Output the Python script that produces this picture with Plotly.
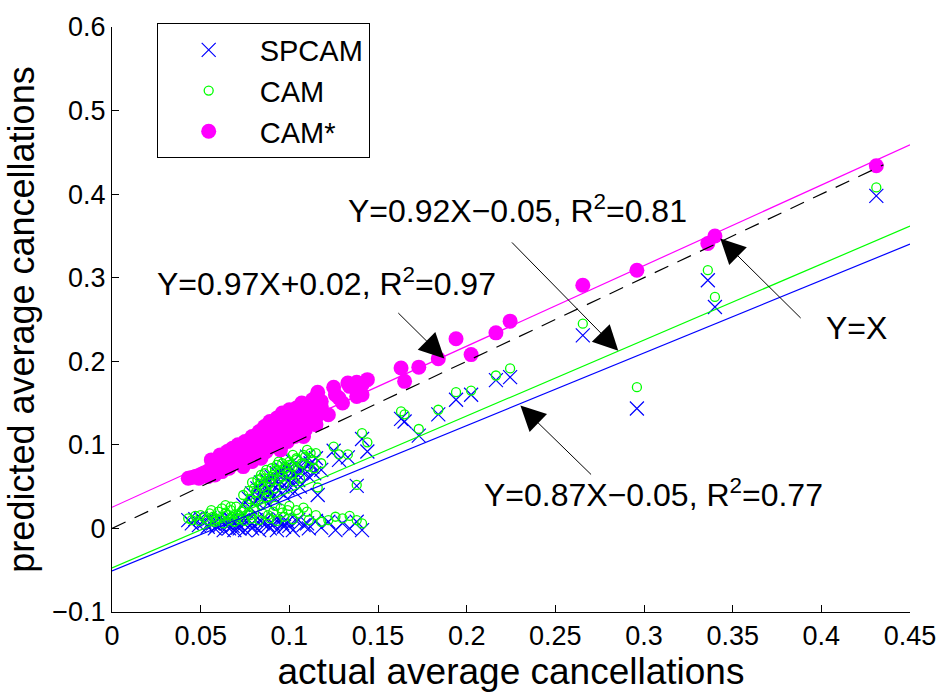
import plotly.graph_objects as go

# ---------------- data ----------------
actual = [
    0.043, 0.045, 0.047, 0.049, 0.050, 0.052, 0.054, 0.055, 0.057, 0.058,
    0.060, 0.061, 0.062, 0.063, 0.064, 0.065, 0.066, 0.067, 0.068, 0.069,
    0.070, 0.071, 0.072, 0.073, 0.075, 0.076, 0.078, 0.079, 0.081, 0.083,
    0.085, 0.087, 0.089, 0.091, 0.093, 0.095, 0.097, 0.099, 0.102, 0.105,
    0.108, 0.111, 0.115, 0.118, 0.122, 0.126, 0.130, 0.134, 0.138, 0.141,
    0.056, 0.059, 0.064, 0.067, 0.071, 0.074, 0.077, 0.080, 0.084, 0.088,
    0.092, 0.096, 0.100, 0.104, 0.110,
    0.074, 0.077, 0.079, 0.080, 0.082, 0.083, 0.084, 0.085, 0.086, 0.087,
    0.088, 0.089, 0.090, 0.091, 0.092, 0.093, 0.094, 0.095, 0.096, 0.097,
    0.098, 0.099, 0.100, 0.101, 0.102, 0.103, 0.104, 0.105, 0.107, 0.109,
    0.111, 0.113, 0.115, 0.116, 0.118, 0.125, 0.128, 0.133, 0.138, 0.141,
    0.144,
    0.078, 0.081, 0.084, 0.086, 0.088, 0.090, 0.092, 0.094, 0.096, 0.098,
    0.100, 0.102, 0.104, 0.106, 0.108, 0.110, 0.112, 0.114,
    0.163, 0.165, 0.173, 0.184, 0.194, 0.2025, 0.2165, 0.2245, 0.2655, 0.296,
    0.336, 0.340, 0.431,
]
spcam = [
    0.010, 0.006, 0.011, 0.004, 0.012, 0.008, 0.002, 0.012, 0.006, 0.000,
    0.011, 0.004, 0.009, -0.002, 0.012, 0.006, 0.000, 0.010, 0.003, -0.002,
    0.011, 0.005, 0.000, 0.009, -0.002, 0.012, 0.004, 0.000, 0.010, -0.002,
    0.006, 0.011, 0.000, 0.005, -0.002, 0.010, 0.002, 0.008, -0.002, 0.010,
    0.004, 0.000, 0.009, 0.001, 0.008, -0.002, 0.006, 0.000, 0.008, -0.002,
    0.009, 0.003, 0.007, 0.011, 0.001, 0.007, 0.010, 0.003, 0.009, 0.004,
    0.011, 0.006, 0.003, 0.009, 0.006,
    0.028, 0.036, 0.042, 0.030, 0.048, 0.038, 0.055, 0.044, 0.034, 0.058,
    0.047, 0.040, 0.062, 0.052, 0.036, 0.066, 0.045, 0.056, 0.070, 0.040,
    0.060, 0.048, 0.072, 0.055, 0.064, 0.044, 0.076, 0.058, 0.068, 0.080,
    0.062, 0.074, 0.084, 0.040, 0.070, 0.093, 0.082, 0.085, 0.051, 0.107,
    0.092,
    0.025, 0.033, 0.041, 0.050, 0.030, 0.044, 0.057, 0.068, 0.050, 0.073,
    0.058, 0.080, 0.066, 0.050, 0.072, 0.086, 0.078, 0.066,
    0.131, 0.128, 0.111, 0.1365, 0.154, 0.160, 0.1775, 0.181, 0.231, 0.1435,
    0.297, 0.265, 0.398,
]
cam = [
    0.012, 0.010, 0.015, 0.009, 0.016, 0.013, 0.010, 0.018, 0.014, 0.008,
    0.020, 0.012, 0.024, 0.006, 0.028, 0.016, 0.010, 0.022, 0.014, 0.008,
    0.026, 0.015, 0.011, 0.020, 0.009, 0.029, 0.016, 0.012, 0.033, 0.010,
    0.018, 0.037, 0.012, 0.020, 0.009, 0.024, 0.014, 0.022, 0.011, 0.018,
    0.025, 0.010, 0.016, 0.008, 0.010, 0.014, 0.012, 0.015, 0.010, 0.006,
    0.022, 0.011, 0.019, 0.026, 0.017, 0.023, 0.019, 0.024, 0.028, 0.016,
    0.027, 0.019, 0.027, 0.022, 0.020,
    0.040, 0.045, 0.055, 0.048, 0.058, 0.052, 0.064, 0.050, 0.046, 0.070,
    0.060, 0.054, 0.072, 0.064, 0.048, 0.076, 0.058, 0.068, 0.078, 0.052,
    0.072, 0.066, 0.080, 0.064, 0.074, 0.056, 0.084, 0.070, 0.078, 0.086,
    0.074, 0.082, 0.090, 0.049, 0.078, 0.098, 0.0885, 0.0885, 0.052, 0.114,
    0.103,
    0.035, 0.043, 0.060, 0.066, 0.042, 0.058, 0.069, 0.080, 0.062, 0.084,
    0.076, 0.088, 0.082, 0.060, 0.088, 0.094, 0.090, 0.072,
    0.140, 0.1365, 0.119, 0.142, 0.163, 0.165, 0.183, 0.1915, 0.245, 0.169,
    0.309, 0.277, 0.408,
]
camstar = [
    0.060, 0.061, 0.062, 0.060, 0.064, 0.066, 0.062, 0.070, 0.074, 0.064,
    0.080, 0.088, 0.068, 0.076, 0.084, 0.092, 0.072, 0.086, 0.096, 0.078,
    0.090, 0.100, 0.082, 0.094, 0.104, 0.086, 0.098, 0.110, 0.090, 0.102,
    0.114, 0.096, 0.108, 0.120, 0.100, 0.126, 0.112, 0.134, 0.118, 0.140,
    0.110, 0.146, 0.124, 0.152, 0.136, 0.160, 0.150, 0.170, 0.158, 0.172,
    0.082, 0.069, 0.079, 0.094, 0.086, 0.099, 0.092, 0.104, 0.100, 0.116,
    0.106, 0.120, 0.128, 0.132, 0.138,
    0.074, 0.088, 0.080, 0.106, 0.094, 0.116, 0.084, 0.104, 0.122, 0.092,
    0.112, 0.128, 0.098, 0.118, 0.106, 0.132, 0.124, 0.094, 0.138, 0.116,
    0.128, 0.104, 0.142, 0.122, 0.134, 0.110, 0.144, 0.128, 0.150, 0.118,
    0.140, 0.154, 0.132, 0.163, 0.146, 0.169, 0.156, 0.174, 0.175, 0.160,
    0.178,
    0.096, 0.086, 0.110, 0.098, 0.120, 0.108, 0.126, 0.114, 0.102, 0.130,
    0.118, 0.140, 0.124, 0.146, 0.136, 0.128, 0.150, 0.142,
    0.192, 0.176, 0.193, 0.203, 0.227, 0.208, 0.234, 0.248, 0.291, 0.309,
    0.341, 0.350, 0.434,
]

# fitted lines: slope, intercept, x-extent
fit_names = ["SPCAM fit", "CAM fit", "CAM* fit"]
fit_slopes = [0.869, 0.909, 0.964]
fit_intercepts = [-0.0508, -0.0473, 0.0253]
fit_colors = ["#0000ff", "#00ff00", "#ff00ff"]
fit_xrange = [0.0, 0.45]
identity_xrange = [0.0, 0.435]

x_ticks = [0, 0.05, 0.1, 0.15, 0.2, 0.25, 0.3, 0.35, 0.4, 0.45]
x_tick_labels = ["0", "0.05", "0.1", "0.15", "0.2", "0.25", "0.3", "0.35", "0.4", "0.45"]
y_ticks = [-0.1, 0, 0.1, 0.2, 0.3, 0.4, 0.5, 0.6]
y_tick_labels = ["\u22120.1", "0", "0.1", "0.2", "0.3", "0.4", "0.5", "0.6"]

FONT = "Liberation Sans, Arial, Helvetica, sans-serif"

fig = go.Figure()

fig.add_trace(go.Scatter(
    x=actual, y=spcam, mode="markers", name="SPCAM",
    marker=dict(symbol="x-thin", size=14, color="#0000ff",
                line=dict(color="#0000ff", width=1.2)),
))
fig.add_trace(go.Scatter(
    x=actual, y=cam, mode="markers", name="CAM",
    marker=dict(symbol="circle-open", size=9, color="#00ff00",
                line=dict(color="#00ff00", width=1.3)),
))
fig.add_trace(go.Scatter(
    x=actual, y=camstar, mode="markers", name="CAM*",
    marker=dict(symbol="circle", size=15, color="#ff00ff",
                line=dict(width=0)),
))

for name, m, b, c in zip(fit_names, fit_slopes, fit_intercepts, fit_colors):
    fig.add_trace(go.Scatter(
        x=fit_xrange, y=[m * fit_xrange[0] + b, m * fit_xrange[1] + b],
        mode="lines", line=dict(color=c, width=1.2), showlegend=False,
        hoverinfo="skip", name=name,
    ))

fig.add_trace(go.Scatter(
    x=identity_xrange, y=identity_xrange, mode="lines",
    line=dict(color="black", width=1.2, dash="15px,10px"),
    showlegend=False, hoverinfo="skip", name="Y=X",
))

# text labels
labels = [
    ("Y=0.92X\u22120.05, R<sup>2</sup>=0.81", 0.2286, 0.3824),
    ("Y=0.97X+0.02, R<sup>2</sup>=0.97", 0.121, 0.2946),
    ("Y=X", 0.42, 0.2396),
    ("Y=0.87X\u22120.05, R<sup>2</sup>=0.77", 0.3056, 0.0429),
]
for t, x, y in labels:
    fig.add_annotation(x=x, y=y, xref="x", yref="y", text=t, showarrow=False,
                       font=dict(family=FONT, size=32, color="black"),
                       xanchor="center", yanchor="middle")

# arrows: (head x, head y, tail x, tail y)
arrows = [
    (0.2855, 0.2125, 0.2247, 0.344),
    (0.1874, 0.2033, 0.1606, 0.2595),
    (0.343, 0.347, 0.3892, 0.250),
    (0.2303, 0.147, 0.271, 0.0628),
]
for hx, hy, tx, ty in arrows:
    fig.add_annotation(x=hx, y=hy, ax=tx, ay=ty, xref="x", yref="y",
                       axref="x", ayref="y", text="", showarrow=True,
                       arrowhead=2, arrowsize=5, arrowwidth=1,
                       arrowcolor="black")

fig.update_layout(
    width=948, height=695,
    margin=dict(l=112, r=29, t=14, b=83),
    paper_bgcolor="white", plot_bgcolor="white",
    font=dict(family=FONT, color="black"),
    showlegend=True,
    legend=dict(x=0.056, y=1.006, xanchor="left", yanchor="top",
                bgcolor="white", bordercolor="black", borderwidth=1,
                font=dict(family=FONT, size=29, color="black"),
                itemwidth=92, tracegroupgap=0),
)
fig.update_xaxes(
    range=[0, 0.45], tickvals=x_ticks, ticktext=x_tick_labels,
    showgrid=False, zeroline=False, showline=True, linecolor="black",
    linewidth=1, ticks="inside", ticklen=7, tickcolor="black",
    tickfont=dict(family=FONT, size=27, color="black"),
    title=dict(text="actual average cancellations",
               font=dict(family=FONT, size=37, color="black"), standoff=4),
)
fig.update_yaxes(
    range=[-0.1, 0.6], tickvals=y_ticks, ticktext=y_tick_labels,
    showgrid=False, zeroline=False, showline=True, linecolor="black",
    linewidth=1, ticks="inside", ticklen=7, tickcolor="black",
    tickfont=dict(family=FONT, size=27, color="black"),
    title=dict(text="predicted average cancellations",
               font=dict(family=FONT, size=36, color="black"), standoff=6),
)

fig.write_html("out.html")
